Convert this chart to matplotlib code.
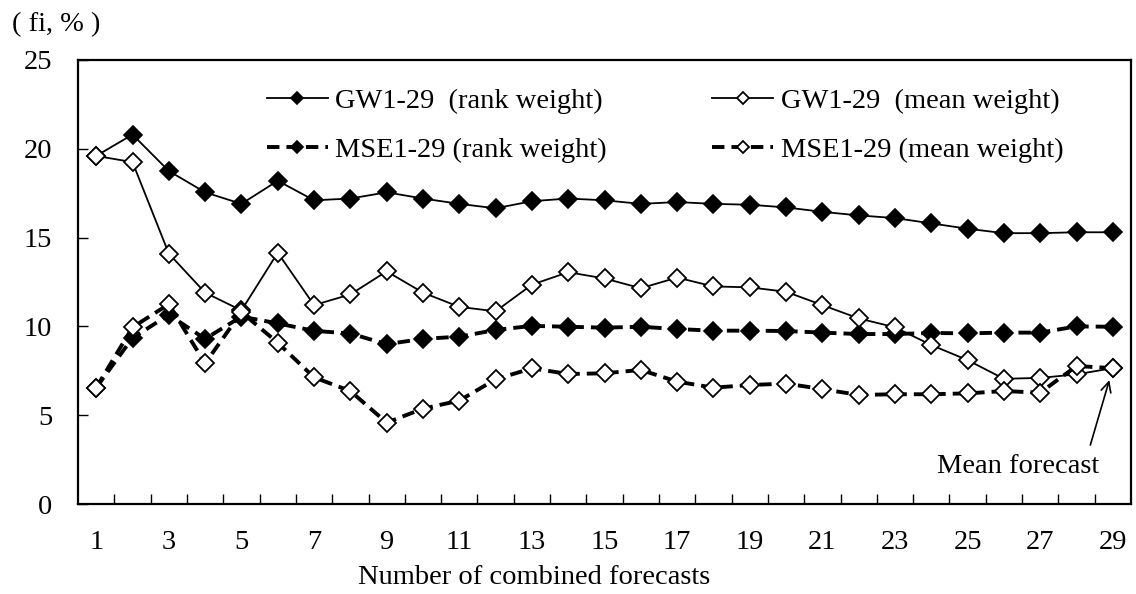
import matplotlib.pyplot as plt

plt.rcParams['font.family'] = ['Liberation Serif', 'DejaVu Serif']

n_combined = list(range(1, 30))

gw_rank = [19.6, 20.8, 18.75, 17.55, 16.9, 18.2, 17.1, 17.2, 17.55, 17.2,
           16.9, 16.65, 17.05, 17.2, 17.1, 16.9, 17.0, 16.9, 16.85, 16.7,
           16.45, 16.25, 16.1, 15.8, 15.5, 15.25, 15.25, 15.3, 15.3]
gw_mean = [19.6, 19.25, 14.1, 11.9, 10.9, 14.15, 11.2, 11.8, 13.1, 11.9,
           11.1, 10.85, 12.35, 13.05, 12.7, 12.15, 12.75, 12.25, 12.2, 11.95,
           11.2, 10.45, 9.95, 8.95, 8.1, 7.05, 7.1, 7.3, 7.65]
mse_rank = [6.55, 9.35, 10.65, 9.3, 10.55, 10.17, 9.75, 9.6, 9.0, 9.3,
            9.42, 9.8, 10.03, 9.98, 9.93, 9.98, 9.85, 9.76, 9.76, 9.74,
            9.65, 9.57, 9.57, 9.63, 9.61, 9.65, 9.65, 10.0, 9.98]
mse_mean = [6.55, 9.95, 11.25, 7.92, 10.8, 9.08, 7.13, 6.36, 4.58, 5.37,
            5.82, 7.02, 7.64, 7.32, 7.36, 7.55, 6.89, 6.55, 6.7, 6.78,
            6.47, 6.14, 6.18, 6.18, 6.23, 6.36, 6.27, 7.77, 7.65]

labels = ['GW1-29  (rank weight)', 'GW1-29  (mean weight)',
          'MSE1-29 (rank weight)', 'MSE1-29 (mean weight)']

fs = 20.5

fig = plt.figure(figsize=(11.36, 5.94), dpi=100)
ax = fig.add_axes([0.0687, 0.1515, 0.9269, 0.7475])

dash = (3.2, 1.8)
l1, = ax.plot(n_combined, gw_rank, '-', color='black', lw=1.3, marker='D', ms=9,
              mfc='black', mec='black', mew=1.2, label=labels[0], zorder=3)
l2, = ax.plot(n_combined, gw_mean, '-', color='black', lw=1.3, marker='D', ms=9,
              mfc='white', mec='black', mew=1.3, label=labels[1], zorder=4)
l3, = ax.plot(n_combined, mse_rank, color='black', lw=2.8, dashes=dash, marker='D',
              ms=9, mfc='black', mec='black', mew=1.2, label=labels[2], zorder=3)
l4, = ax.plot(n_combined, mse_mean, color='black', lw=2.8, dashes=dash, marker='D',
              ms=9, mfc='white', mec='black', mew=1.3, label=labels[3], zorder=4)

ax.set_xlim(0.5, 29.5)
ax.set_ylim(0, 25)
ax.set_yticks([0, 5, 10, 15, 20, 25])
ax.set_xticks(n_combined[::2])
ax.set_xticks([k + 0.5 for k in n_combined[:-1]], minor=True)
ax.tick_params(axis='x', which='major', length=0, pad=19, labelsize=fs)
ax.tick_params(axis='x', which='minor', direction='in', length=7, width=1)
ax.tick_params(axis='y', direction='in', length=7, width=1, pad=18.5, labelsize=fs)
for sp in ax.spines.values():
    sp.set_linewidth(1.6)

# rows: GW on top, MSE below (legend fills column by column)
ax.legend([l1, l3, l2, l4], [labels[0], labels[2], labels[1], labels[3]],
          ncol=2, loc='upper left', bbox_to_anchor=(0.155, 0.995),
          frameon=False, fontsize=fs, handlelength=2.15, handletextpad=0.25,
          columnspacing=3.7, labelspacing=0.83, markerscale=0.7)

# arrow pointing at the last point, where every mean-weight combination meets
ax.annotate('', xy=(n_combined[-1], mse_mean[-1]), xytext=(28.38, 3.32),
            arrowprops=dict(arrowstyle='->', color='black', lw=1.2,
                            shrinkA=0, shrinkB=9, mutation_scale=18))
ax.text(26.38, 2.14, 'Mean forecast', fontsize=fs, ha='center', va='center')

fig.text(0.0106, 0.958, '( fi, % )', fontsize=fs, ha='left', va='center')
fig.text(0.315, 0.027, 'Number of combined forecasts', fontsize=fs,
         ha='left', va='center')

fig.savefig('out.png', dpi=100)
